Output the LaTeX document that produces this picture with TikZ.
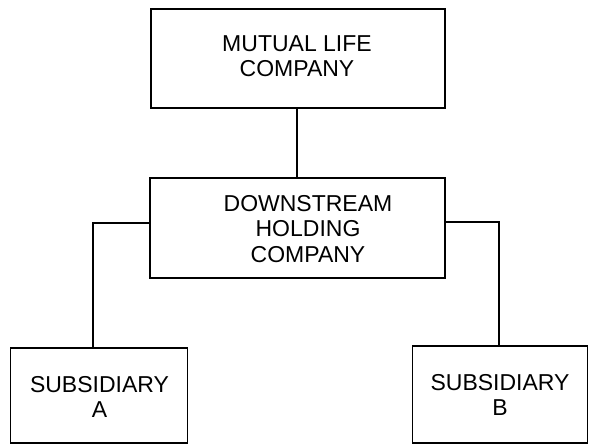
\documentclass[tikz,border=0pt]{standalone}
\usepackage{fontspec}
\setmainfont{Liberation Sans}
\begin{document}
\begin{tikzpicture}[x=1pt,y=1pt,
  box/.style={draw, line width=1.6pt, inner sep=0pt},
  lbl/.style={align=center, font=\fontsize{23}{25.5}\selectfont, inner sep=0pt},
  conn/.style={line width=1.6pt}]
\useasboundingbox (0,0) rectangle (589,-444);
\node[box, minimum width=294pt, minimum height=99pt] (top) at (298,-58.5) {};
\node[lbl] (toptext) at (297,-56) {MUTUAL LIFE\\COMPANY};
\node[box, minimum width=295pt, minimum height=100pt] (mid) at (297.5,-228) {};
\node[lbl] (midtext) at (308,-229) {DOWNSTREAM\\HOLDING\\COMPANY};
\node[box, minimum width=177pt, minimum height=95pt] (subA) at (99,-395.5) {};
\node[lbl] (atext) at (99.5,-397) {SUBSIDIARY\\A};
\node[box, minimum width=175pt, minimum height=97pt] (subB) at (500,-394.5) {};
\node[lbl] (btext) at (500,-395) {SUBSIDIARY\\B};
\draw[conn] (top.south -| 297,0) -- (mid.north -| 297,0);
\draw[conn] ([yshift=5pt]mid.west) -| ([xshift=-6pt]subA.north);
\draw[conn] ([yshift=6pt]mid.east) -| ([xshift=-1pt]subB.north);
\end{tikzpicture}
\end{document}
